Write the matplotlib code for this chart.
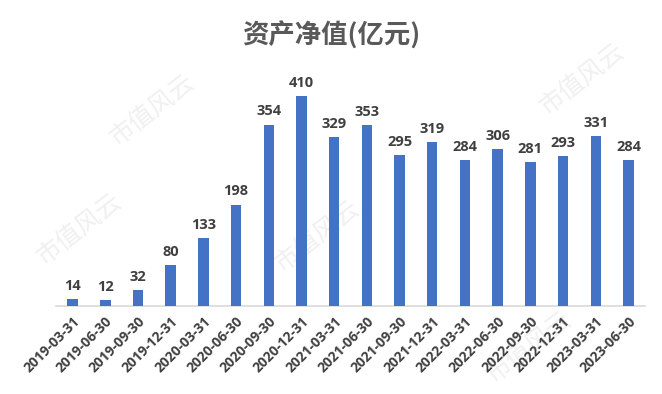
import matplotlib
matplotlib.use("Agg")
import matplotlib.pyplot as plt

plt.rcParams['font.family'] = ['Noto Sans CJK SC', 'DejaVu Sans']

dates = ["2019-03-31", "2019-06-30", "2019-09-30", "2019-12-31",
         "2020-03-31", "2020-06-30", "2020-09-30", "2020-12-31",
         "2021-03-31", "2021-06-30", "2021-09-30", "2021-12-31",
         "2022-03-31", "2022-06-30", "2022-09-30", "2022-12-31",
         "2023-03-31", "2023-06-30"]
values = [14, 12, 32, 80, 133, 198, 354, 410, 329, 353, 295, 319,
          284, 306, 281, 293, 331, 284]
title = "资产净值(亿元)"

fig = plt.figure(figsize=(6.62, 3.94), dpi=100)
fig.patch.set_facecolor("white")

# watermarks (behind the axes)
wm = [(0.23, 0.72), (0.48, 0.40), (0.88, 0.80), (0.12, 0.42), (0.80, 0.12)]
for (x, y) in wm:
    fig.text(x, y, "市值风云", rotation=38, fontsize=18, color="#f0f0f0",
             ha="center", va="center", zorder=0)

ax = fig.add_axes([0.085, 0.223, 0.889, 0.625])
ax.set_zorder(2)
ax.set_facecolor("none")
xs = list(range(len(values)))
ax.bar(xs, values, width=0.32, color="#4472C4", zorder=3)
for x, v in zip(xs, values):
    ax.text(x, v + 12, str(v), ha="center", va="bottom", fontsize=10.5,
            fontweight="bold", color="#404040", family="Open Sans")

ax.set_xlim(-0.5, len(values) - 0.5)
ax.set_ylim(0, 480)
ax.set_yticks([])
for s in ["top", "right", "left"]:
    ax.spines[s].set_visible(False)
ax.spines["bottom"].set_color("#d9d9d9")
ax.spines["bottom"].set_linewidth(1.2)
ax.set_xticks(xs)
ax.set_xticklabels(dates, rotation=45, ha="right", rotation_mode="anchor",
                   fontsize=10, fontweight="bold", color="#404040", family="Open Sans")
ax.tick_params(axis="x", length=0, pad=6)

fig.text(0.5, 0.91, title, ha="center", va="center", fontsize=19,
         fontweight="bold", color="#595959")

fig.savefig("out.png", dpi=100, facecolor="white")
